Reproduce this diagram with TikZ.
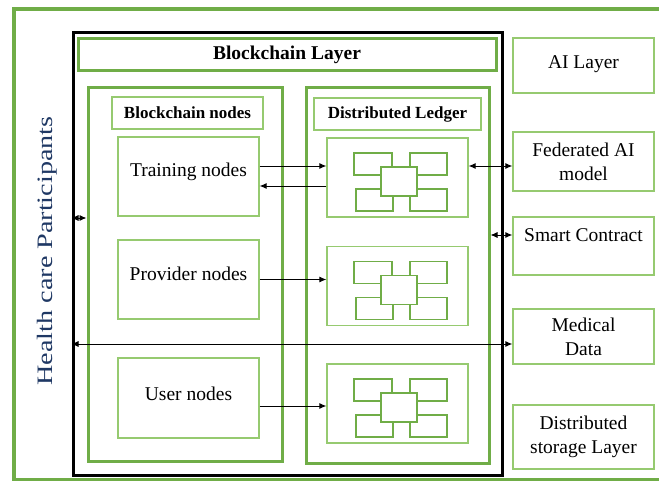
\documentclass[tikz,border=0pt]{standalone}
\usepackage{fontspec}
\setmainfont{Liberation Serif}
\usetikzlibrary{arrows.meta}
\definecolor{hgreen}{RGB}{112,173,71}
\definecolor{lgreen}{RGB}{150,202,112}
\definecolor{hblue}{RGB}{31,56,100}

\begin{document}
\begin{tikzpicture}[x=1pt,y=-1pt,
   sz/.style 2 args={minimum width=#1pt,minimum height=#2pt,inner sep=0pt},
   greenbox/.style={draw=hgreen,line width=3pt},
   thinbox/.style={draw=lgreen,line width=1.3pt,align=center,
                   font=\fontsize{19.5}{24}\selectfont},
   labelbox/.style={draw=lgreen,line width=1.3pt,font=\fontsize{17}{20}\selectfont\bfseries},
   cell/.style={draw=hgreen,line width=1.1pt,fill=white},
   arr/.style={-{Latex[length=7pt,width=6pt]},line width=0.9pt},
   darr/.style={{Latex[length=7pt,width=6pt]}-{Latex[length=7pt,width=6pt]},line width=0.9pt}]

   \useasboundingbox (0,0) rectangle (659,481);
   \clip (0,0) rectangle (659,481);
   % outer frame, runs off on the right
   \draw[hgreen,line width=4pt] (14,9.5) rectangle (680,480);

   \node[draw,line width=3pt,sz={429}{442}] (blk) at (287.5,254) {};
   \node[greenbox,sz={418}{32},font=\fontsize{19.5}{22}\selectfont\bfseries] (layer) at (287,55) {Blockchain Layer};
   \node[greenbox,sz={194}{373}] (leftc) at (185,274.5) {};
   \node[greenbox,sz={183}{375}] (rightc) at (397.5,275.5) {};
   \node[labelbox,sz={151}{32}] (bnodes) at (187.5,113) {Blockchain nodes};
   \node[labelbox,sz={167}{32}] (ledger) at (397.5,114) {Distributed Ledger};

   \node[thinbox,sz={141}{79},text depth=13pt] (train) at (188.5,176.5) {Training nodes};
   \node[thinbox,sz={141}{79},text depth=11pt] (prov) at (188.5,279.5) {Provider nodes};
   \node[thinbox,sz={141}{80},text depth=9pt] (user) at (188.5,398) {User nodes};

   \foreach \n/\y in {1/177.5,2/286,3/403.5}{
     \node[thinbox,sz={141}{79}] (b\n) at (397.5,\y) {};
     \begin{scope}[shift={(397.5,\y)}]
       \draw[cell] (-43.5,-24.5) rectangle (-5.5,-2.5);
       \draw[cell] (12.5,-24.5) rectangle (49.5,-2.5);
       \draw[cell] (-41.5,11.5) rectangle (-4.5,33.5);
       \draw[cell] (12.5,11.5) rectangle (49.5,33.5);
       \draw[cell] (-16.5,-10.5) rectangle (19.5,18.5);
     \end{scope}
   }

   \node[thinbox,sz={141}{55},text depth=7pt] (ai) at (583.5,65.5) {AI Layer};
   \node[thinbox,sz={141}{59}] (fed) at (583.5,161.5) {Federated AI\\model};
   \node[thinbox,sz={141}{58},text depth=22pt] (smart) at (583.5,246) {Smart Contract};
   \node[thinbox,sz={141}{55}] (med) at (583.5,336.5) {Medical\\Data};
   \node[thinbox,sz={141}{64}] (dist) at (583.5,437) {Distributed\\storage Layer};

   \node[rotate=90,text=hblue,font=\fontsize{22}{24}\selectfont] (hcp) at (47,251)
        {\scalebox{1.28}[1]{Health care Participants}};

   \draw[arr] ([yshift=10.5pt]train.east) coordinate (p1) -- (p1 -| b1.west);
   \draw[arr] ([yshift=-8.5pt]b1.west) coordinate (p2) -- (p2 -| train.east);
   \draw[arr] (prov.east) -- (prov.east -| b2.west);
   \draw[arr] ([yshift=-8pt]user.east) coordinate (p3) -- (p3 -| b3.west);
   \draw[darr] ([yshift=-4.5pt]fed.west) coordinate (p4) -- (p4 -| b1.east);
   \draw[darr] ([yshift=11pt]smart.west) coordinate (p5) -- (p5 -| rightc.east);
   \draw[darr] ([yshift=-7.5pt]med.west) coordinate (p6) -- (p6 -| blk.west);
   \draw[darr] ([yshift=36pt]blk.west) coordinate (p7) -- (p7 -| leftc.west);
\end{tikzpicture}
\end{document}
